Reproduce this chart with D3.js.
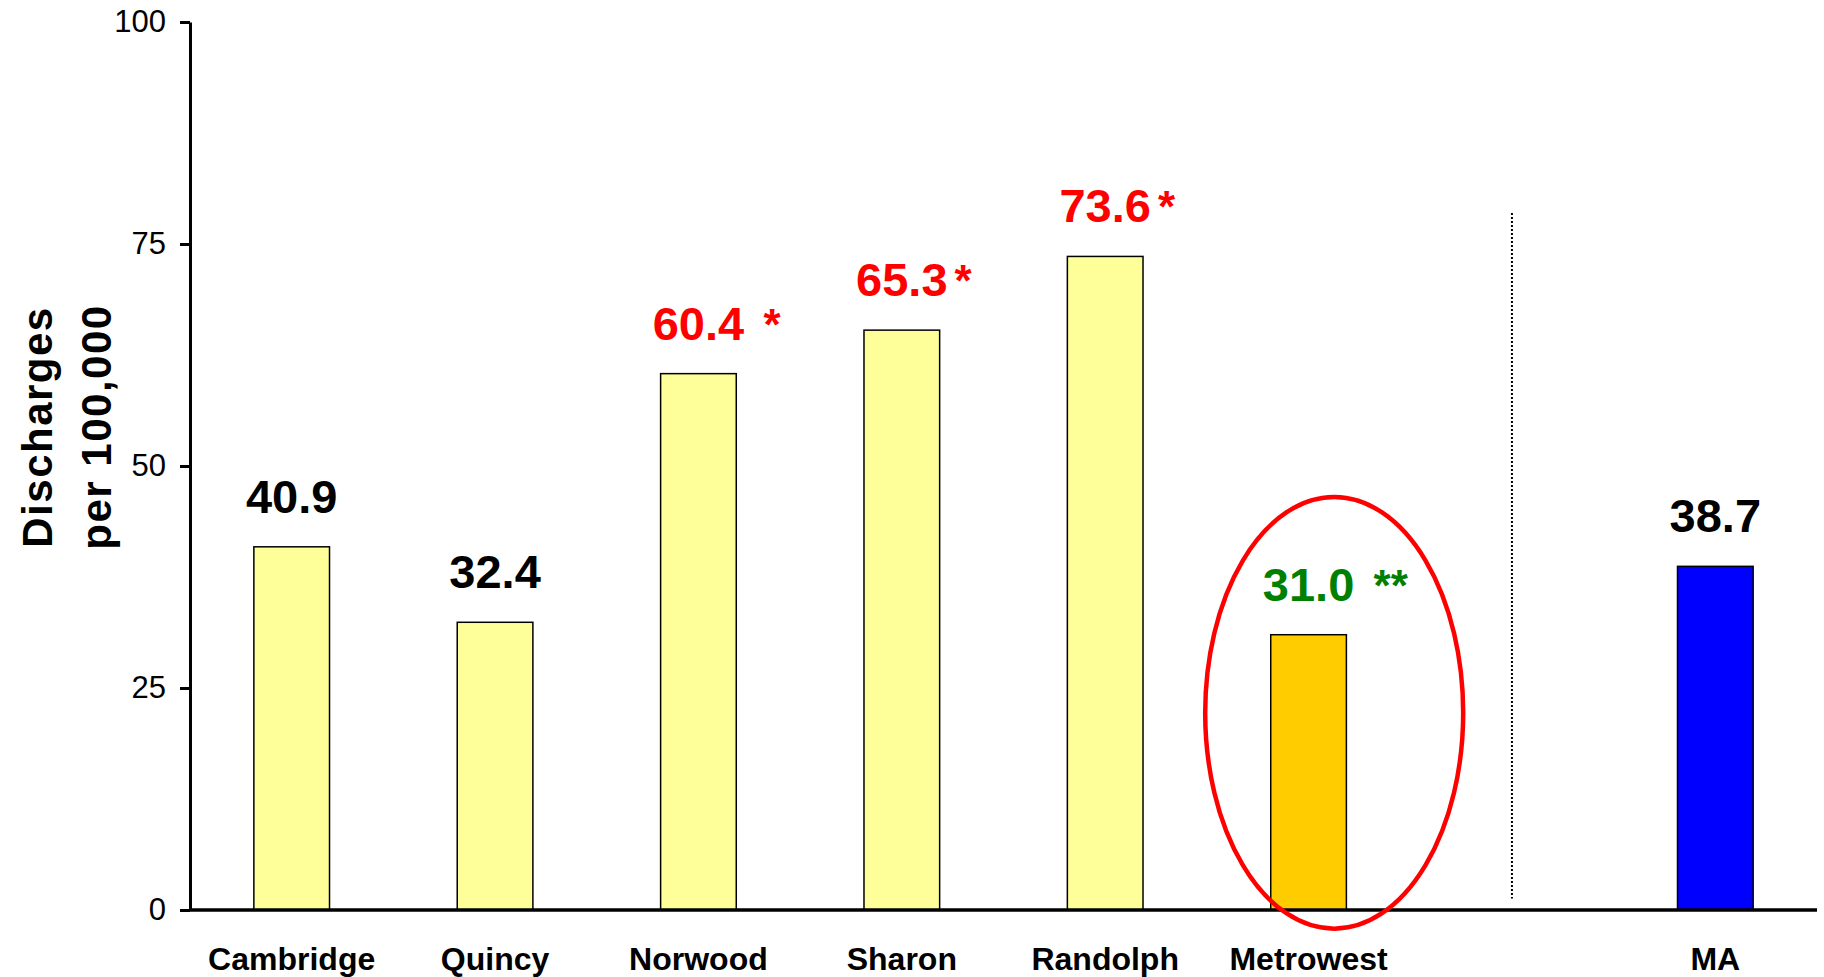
<!DOCTYPE html>
<html>
<head>
<meta charset="utf-8">
<script src="https://d3js.org/d3.v7.min.js"></script>
<style>
  body { margin: 0; background: #fff; }
  text { font-family: Arial, "Liberation Sans", sans-serif; }
</style>
</head>
<body>
<div id="chart"></div>
<script>

// data
var categories = ["Cambridge", "Quincy", "Norwood", "Sharon", "Randolph", "Metrowest", "MA"];
var values = [40.9, 32.4, 60.4, 65.3, 73.6, 31.0, 38.7];
var labels = ["40.9", "32.4", "60.4", "65.3", "73.6", "31.0", "38.7"];
var notes = ["", "", " *", "*", "*", " **", ""];
var groups = ["town", "town", "town", "town", "town", "region", "state"];
var yTicks = [0, 25, 50, 75, 100];

// The svg
var width = 1824;
var height = 977;

var svg = d3.select("#chart")
    .append("svg")
    .attr("width", width)
    .attr("height", height);

// a blank slot holds the dotted divider between Metrowest and MA
var divider = "|";
var slots = categories.slice(0, 6).concat([divider], categories.slice(6));

var x = d3.scaleBand()
    .domain(slots)
    .range([190, 1817])
    .paddingInner(0.628)
    .paddingOuter(0.314);

var y = d3.scaleLinear()
    .domain([0, 100])
    .range([910, 22]);

var fill = d3.scaleOrdinal()
    .domain(["town", "region", "state"])
    .range(["#FFFF99", "#FFCC00", "#0000FF"]);

var labelColor = function (i) {
    if (notes[i] == "") return "#000000";
    if (groups[i] == "region") return "#008000";
    return "#FF0000";
}

var rows = categories.map(function (c, i) { return { name: c, value: values[i], i: i } });

// y axis
var yAxis = svg.append("g")
    .attr("transform", "translate(190,0)")
    .call(d3.axisLeft(y).tickValues(yTicks).tickSize(10).tickPadding(14).tickSizeOuter(0));

yAxis.select(".domain").attr("stroke", "#000").attr("stroke-width", 3);
yAxis.selectAll(".tick line").attr("stroke", "#000").attr("stroke-width", 3);
yAxis.selectAll(".tick text")
    .style("font-family", "Arial, 'Liberation Sans', sans-serif")
    .style("font-size", "31px")
    .attr("fill", "#000");

// y title (two lines)
var title = svg.append("text")
    .attr("transform", "translate(52,427) rotate(-90)")
    .attr("text-anchor", "middle")
    .style("font-size", "42px")
    .style("font-weight", "bold")
    .style("letter-spacing", "1.5px");
title.append("tspan").attr("x", 0).attr("y", 0).text("Discharges");
title.append("tspan").attr("x", 0).attr("y", 59).text("per 100,000");

// bars
svg.append("g")
    .selectAll("rect")
    .data(rows)
    .enter()
    .append("rect")
    .attr("x", function (d) { return x(d.name) })
    .attr("y", function (d) { return y(d.value) })
    .attr("width", x.bandwidth())
    .attr("height", function (d) { return y(0) - y(d.value) })
    .attr("fill", function (d) { return fill(groups[d.i]) })
    .attr("stroke", "#000")
    .attr("stroke-width", 1.5);

// x axis line
svg.append("line")
    .attr("x1", 190)
    .attr("x2", 1817)
    .attr("y1", y(0))
    .attr("y2", y(0))
    .attr("stroke", "#000")
    .attr("stroke-width", 3.5);

// category labels
svg.append("g")
    .selectAll("text")
    .data(rows)
    .enter()
    .append("text")
    .attr("x", function (d) { return x(d.name) + x.bandwidth() / 2 })
    .attr("y", 970)
    .attr("text-anchor", "middle")
    .style("font-size", "32px")
    .style("font-weight", "bold")
    .text(function (d) { return d.name });

// value labels + significance stars
var vl = svg.append("g")
    .selectAll("g")
    .data(rows)
    .enter()
    .append("g");

vl.append("text")
    .attr("class", "val")
    .attr("x", function (d) { return x(d.name) + x.bandwidth() / 2 })
    .attr("y", function (d) { return y(d.value) - 34 })
    .attr("text-anchor", "middle")
    .attr("fill", function (d) { return labelColor(d.i) })
    .style("font-size", "47px")
    .style("font-weight", "bold")
    .text(function (d) { return labels[d.i] });

vl.each(function (d) {
    if (notes[d.i] == "") return;
    var g = d3.select(this);
    var w = g.select(".val").node().getComputedTextLength();
    g.append("text")
        .attr("x", x(d.name) + x.bandwidth() / 2 + w / 2 + 7)
        .attr("y", y(d.value) - 34)
        .attr("fill", labelColor(d.i))
        .style("font-size", "44px")
        .style("font-weight", "bold")
        .style("white-space", "pre")
        .text(notes[d.i]);
});

// dotted divider
svg.append("line")
    .attr("x1", x(divider) + x.bandwidth() / 2)
    .attr("x2", x(divider) + x.bandwidth() / 2)
    .attr("y1", y(78.5))
    .attr("y2", y(1.3))
    .attr("stroke", "#000")
    .attr("stroke-width", 2)
    .attr("stroke-dasharray", "2,2");

// red ellipse around Metrowest
var mw = x("Metrowest") + x.bandwidth() / 2;
svg.append("ellipse")
    .attr("cx", mw + 0.126 * x.step())
    .attr("cy", (y(46.5) + y(-2.1)) / 2)
    .attr("rx", 129)
    .attr("ry", (y(-2.1) - y(46.5)) / 2)
    .attr("fill", "none")
    .attr("stroke", "#FF0000")
    .attr("stroke-width", 4.5);

</script>
</body>
</html>
